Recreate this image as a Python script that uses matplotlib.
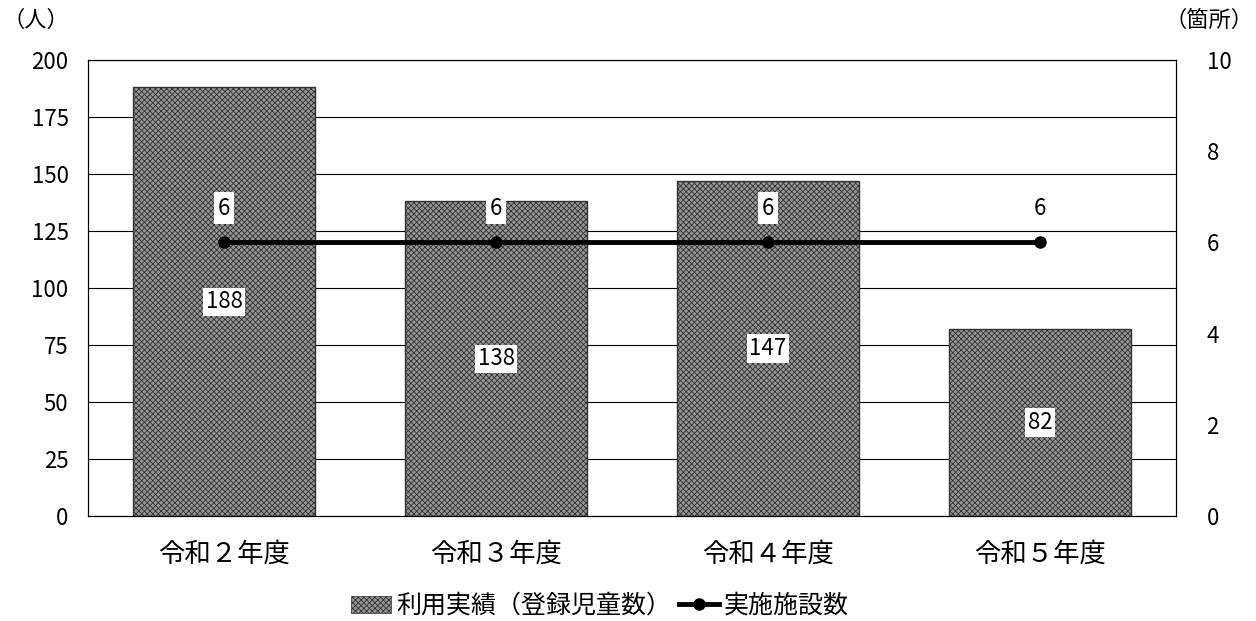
import matplotlib
matplotlib.use('Agg')
import matplotlib.pyplot as plt
import numpy as np
from matplotlib.patches import Patch
from matplotlib.lines import Line2D

plt.rcParams['font.family'] = ['Noto Sans CJK JP', 'DejaVu Sans']
plt.rcParams['hatch.linewidth'] = 0.6

years = ['令和２年度', '令和３年度', '令和４年度', '令和５年度']
children = [188, 138, 147, 82]
facilities = [6, 6, 6, 6]

fig = plt.figure(figsize=(12.56, 6.21), dpi=100)
ax = fig.add_axes([88 / 1256, 1 - 516 / 621, (1176 - 88) / 1256, (516 - 60) / 621])
ax2 = ax.twinx()

x = np.arange(len(years))
ax.bar(x, children, width=0.667, color='#959595', edgecolor='#333333',
       hatch='xxxxxx', linewidth=1.0, zorder=2)
ax.set_ylim(0, 200)
ax.set_yticks(np.arange(0, 201, 25))
ax.set_xlim(-0.5, len(years) - 0.5)
ax.set_xticks(x)
ax.set_xticklabels(years, fontsize=19)
ax.yaxis.grid(True, color='black', linewidth=0.8, zorder=0)
ax.set_axisbelow(True)
ax.tick_params(axis='y', length=0, labelsize=16, pad=14)
ax.tick_params(axis='x', length=0, pad=18)

for xi, v in zip(x, children):
    ax.text(xi, v / 2, str(v), ha='center', va='center', fontsize=16, zorder=5,
            bbox=dict(facecolor='white', edgecolor='none', pad=2))

ax2.plot(x, facilities, color='black', linewidth=3.5, marker='o', markersize=8, zorder=4)
ax2.set_ylim(0, 10)
ax2.set_yticks(np.arange(0, 11, 2))
ax2.tick_params(axis='y', length=0, labelsize=16, pad=22)
for xi, v in zip(x, facilities):
    ax2.text(xi, v + 0.75, str(v), ha='center', va='center', fontsize=16, zorder=5,
             bbox=dict(facecolor='white', edgecolor='none', pad=3))

for a in (ax, ax2):
    for s in a.spines.values():
        s.set_color('black')
        s.set_linewidth(0.8)

fig.text(2 / 1256, 1 - 20 / 621, '（人）', fontsize=16, ha='left', va='center')
fig.text(1254 / 1256, 1 - 20 / 621, '（箇所）', fontsize=16, ha='right', va='center')

handles = [Patch(facecolor='#959595', edgecolor='#333333', hatch='xxxxxx', linewidth=0.5),
           Line2D([], [], color='black', linewidth=3.5, marker='o', markersize=8)]
fig.legend(handles, ['利用実績（登録児童数）', '実施施設数'], loc='center',
           bbox_to_anchor=(600 / 1256, 1 - 606 / 621), ncol=2, frameon=False, fontsize=18,
           handlelength=1.6, handletextpad=0.2, columnspacing=0.3)

fig.savefig('out.png', dpi=100)
